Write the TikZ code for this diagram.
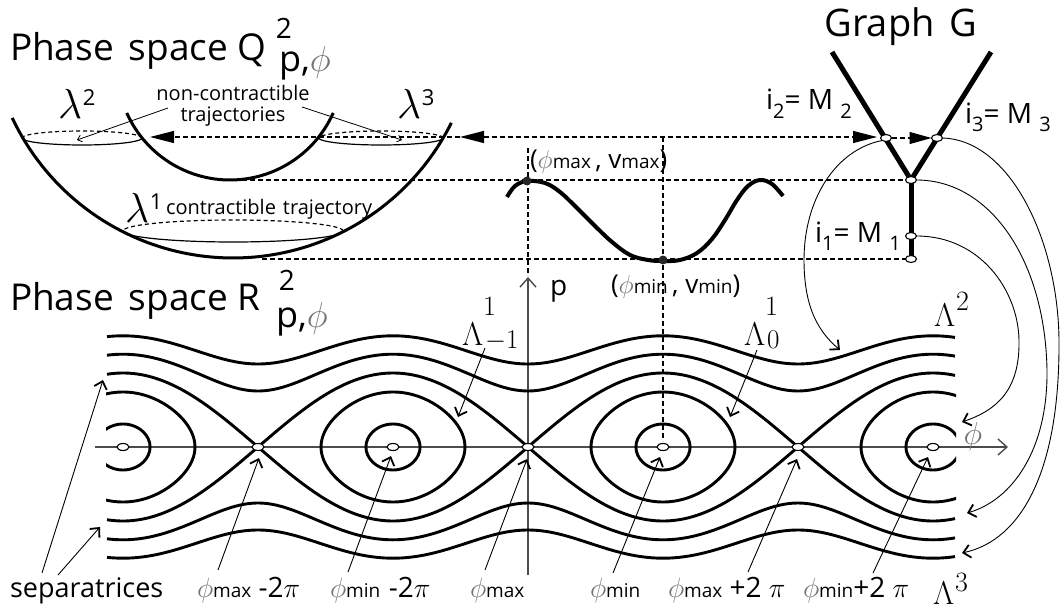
\RequirePackage{fix-cm}
\documentclass[tikz,border=0pt]{standalone}
\usepackage[no-math]{fontspec}
\setmainfont{Open Sans}
\usetikzlibrary{arrows.meta,shapes.geometric}
\definecolor{phigray}{gray}{0.45}
\definecolor{axisgray}{gray}{0.3}
\newcommand\gphi{\textcolor{phigray}{$\phi$}}
\newcommand\sm[1]{{\fontsize{19}{19}\selectfont #1}}
\newcommand\lowsub[1]{\raisebox{-0.3em}{\fontsize{20}{20}\selectfont #1}}
\newcommand\lamlab[1]{$\lambda$\kern1pt\raisebox{13pt}{\fontsize{22}{22}\selectfont #1}}
\newcommand\Lamsupsub[2]{$\Lambda$\makebox[0pt][l]{\raisebox{30pt}{\fontsize{28}{28}\selectfont$#1$}}\kern2pt\raisebox{-3pt}{\fontsize{27}{27}\selectfont$#2$}}
\newcommand\Lamsup[2]{$\Lambda$\kern1pt\raisebox{#1}{\fontsize{28}{28}\selectfont$#2$}}
\begin{document}
\begin{tikzpicture}[x=1pt,y=-1pt,
 every node/.style={inner sep=0pt, outer sep=0pt},
 pcurve/.style={line width=2.9pt, line join=round},
 barb/.style={-{Straight Barb[length=7pt,width=13pt,line width=1.8pt]}},
 thinarr/.style={line width=0.9pt, barb},
 smallarr/.style={line width=0.8pt, -{Straight Barb[length=4pt,width=7pt,line width=0.8pt]}},
 dline/.style={line width=1.1pt, dash pattern=on 5pt off 3pt},
 axisline/.style={axisgray, line width=1.2pt, -{Straight Barb[length=9pt,width=16pt,line width=1.4pt]}},
 fixpt/.style={ellipse, draw, fill=white, line width=1.1pt, minimum width=12pt, minimum height=7pt},
 gnode/.style={ellipse, draw, fill=white, line width=1.1pt, minimum width=11pt, minimum height=7pt},
 bigdot/.style={circle, fill=black!85, minimum size=9pt},
 titletxt/.style={font=\fontsize{37}{42}\selectfont},
 labtxt/.style={font=\fontsize{28}{32}\selectfont},
 lamtxt/.style={font=\fontsize{42}{46}\selectfont},
 Lamtxt/.style={font=\fontsize{33}{36}\selectfont},
 smalltxt/.style={font=\fontsize{20}{23}\selectfont}
]
\useasboundingbox (0,0) rectangle (1060,610);

% ---------------- Phase space Q (bowls) ----------------
\node[titletxt, anchor=base west] (tQ) at (10,60) {Phase\hspace{0.4em}space Q};
\node[labtxt, anchor=center] (tQs) at (284,28) {2};
\node[font=\fontsize{36}{40}\selectfont, anchor=base west] (tQi) at (279,72) {p,\gphi};

\draw[line width=3pt] plot[domain=26.5:154.8,samples=80] ({233+244*cos(\x)},{14+244*sin(\x)});
\draw[line width=3pt] plot[domain=24:156,samples=60] ({230+113*cos(\x)},{67+113*sin(\x)});
% lambda ellipses
\draw[line width=1.2pt, dash pattern=on 4pt off 3pt] plot[domain=0:180,samples=40] ({82+60*cos(\x)},{138-7*sin(\x)});
\draw[line width=1.2pt] plot[domain=0:180,samples=40] ({82+60*cos(\x)},{138+7*sin(\x)});
\draw[line width=1.2pt, dash pattern=on 4pt off 3pt] plot[domain=0:180,samples=40] ({381+62*cos(\x)},{138-7*sin(\x)});
\draw[line width=1.2pt] plot[domain=0:180,samples=40] ({381+62*cos(\x)},{138+7*sin(\x)});
\draw[line width=1.2pt, dash pattern=on 4pt off 3pt] plot[domain=0:180,samples=50] ({233+110*cos(\x)},{231-11*sin(\x)});
\draw[line width=1.2pt] plot[domain=0:180,samples=50] ({233+110*cos(\x)},{231+11*sin(\x)});

\node[lamtxt, anchor=base west] (l2) at (58,118) {\lamlab{2}};
\node[lamtxt, anchor=base west] (l3) at (397,118) {\lamlab{3}};
\node[lamtxt, anchor=base west] (l1) at (125,222) {\lamlab{1}};
\node[smalltxt, anchor=base west] (ctr) at (166,214) {contractible\hspace{0.35em}trajectory};
\node[smalltxt, align=center, anchor=center, font=\fontsize{20}{21}\selectfont] (nct) at (233,106) {non-contractible\\trajectories};
\coordinate (nctA) at (168,108); \coordinate (nctAt) at (77,140);
\coordinate (nctB) at (302,107); \coordinate (nctBt) at (402,140);
\draw[smallarr] (nctA) -- (nctAt);
\draw[smallarr] (nctB) -- (nctBt);

% ---------------- Graph G ----------------
\node[font=\fontsize{38}{42}\selectfont, anchor=center] (tG) at (901,27) {Graph\hspace{0.4em}G};
\coordinate (Gl) at (832,52);
\coordinate (Gr) at (991,52);
\coordinate (Jc) at (911,180);
\coordinate (Bc) at (911,259);
\draw[line width=5pt] (Gl) -- (Jc) -- (Gr);
\draw[line width=5pt] (Jc) -- (Bc);
\node[gnode] (i2) at (886,138) {};
\node[gnode] (i3) at (937,138) {};
\node[gnode] (J) at (Jc) {};
\node[gnode] (i1) at (911,236) {};
\node[gnode] (B) at (Bc) {};
\node[labtxt, anchor=base west] (ti2) at (766,110) {i\lowsub{2}= M \lowsub{2}};
\node[labtxt, anchor=base west] (ti3) at (965,123) {i\lowsub{3}= M \lowsub{3}};
\node[labtxt, anchor=base west] (ti1) at (815,242) {i\lowsub{1}= M \lowsub{1}};

% ---------------- dashed guide lines ----------------
\coordinate (h1L) at (150,137);
\coordinate (h1M) at (460,137);
\coordinate (h1R) at (877,137);
\draw[dline, {Triangle[length=24pt,width=12pt]}-{Triangle[length=24pt,width=12pt]}] (h1M) -- (h1R);
\draw[dline, -{Triangle[length=24pt,width=12pt]}] (h1M) -- (h1L);
\draw[dline, -{Triangle[length=22pt,width=12pt]}] (i2) -- (i3);
\coordinate (h2L) at (226,180);
\draw[dline] (h2L) -- (J);
\coordinate (h3L) at (262,259);
\draw[dline] (h3L) -- (B);
\coordinate (v1T) at (528,148); \coordinate (v1B) at (528,276);
\draw[dline] (v1T) -- (v1B);
\coordinate (v2T) at (663,137); \coordinate (v2B) at (663,441);
\draw[dline] (v2T) -- (v2B);

% ---------------- potential curve ----------------
\draw[line width=4pt] plot[smooth, tension=0.6] coordinates {(507,197) (515,186) (527,181) (545,183) (560,192) (577,208) (595,226) (612,242) (630,255) (648,260) (663,261) (680,260) (697,253) (712,239) (725,220) (737,200) (748,186) (760,180) (772,184) (783,196)};
\node[bigdot] (vmax) at (527,181) {};
\node[bigdot] (vmin) at (663,260) {};
\node[font=\fontsize{26}{30}\selectfont, anchor=base west] (tvmax) at (530,168) {(\gphi\sm{max}\,, v\sm{max})};
\node[font=\fontsize{26}{30}\selectfont, anchor=base west] (tvmin) at (611,293) {(\gphi\sm{min}\,, v\sm{min})};

% ---------------- Phase space R ----------------
\node[titletxt, anchor=base west] (tR) at (10,310) {Phase\hspace{0.4em}space R};
\node[labtxt, anchor=center] (tRs) at (287,280) {2};
\node[font=\fontsize{36}{40}\selectfont, anchor=base west] (tRi) at (276,327) {p,\gphi};

\coordinate (xL) at (95,447); \coordinate (xR) at (1008,447);
\coordinate (pB) at (528,575); \coordinate (pT) at (528,277);
\draw[axisline] (xL) -- (xR);
\draw[axisline] (pB) -- (pT);
\node[font=\fontsize{32}{34}\selectfont, anchor=center] (tphi) at (973,436) {\gphi};
\node[labtxt, anchor=base west] (tp) at (550,295) {p};

\begin{scope}
\clip (106,290) rectangle (956,600);
\foreach \c in {6889,3136} {
  \draw[pcurve] plot[domain=107:955,samples=200] (\x,{447-sqrt(2738*(1+cos((\x-123)*4/3))+\c)});
  \draw[pcurve] plot[domain=107:955,samples=200] (\x,{447+sqrt(2738*(1+cos((\x-123)*4/3))+\c)});
}
\draw[pcurve] plot[domain=107:955,samples=425] (\x,{447-74*abs(cos((\x-123)*2/3))});
\draw[pcurve] plot[domain=107:955,samples=425] (\x,{447+74*abs(cos((\x-123)*2/3))});
\foreach \xc in {123,393,663,933} {
  \draw[pcurve] plot[domain=0:355,samples=72,smooth cycle] ({\xc+1.5*asin(0.743*sin(\x))},{447-55*cos(\x)});
  \draw[pcurve] plot[domain=0:350,samples=36,smooth cycle] ({\xc+1.5*asin(0.31*sin(\x))},{447-23*cos(\x)});
}
\end{scope}

\node[fixpt] (c0) at (123,447) {};
\node[fixpt] (s0) at (258,447) {};
\node[fixpt] (c1) at (393,447) {};
\node[fixpt] (s1) at (528,447) {};
\node[fixpt] (c2) at (663,447) {};
\node[fixpt] (s2) at (798,447) {};
\node[fixpt] (c3) at (933,447) {};

% labels of the portrait
\node[Lamtxt, anchor=base west] (L1) at (462,345) {\Lamsupsub{1}{-1}};
\node[Lamtxt, anchor=base west] (L0) at (744,345) {\Lamsupsub{1}{0}};
\node[Lamtxt, anchor=base west] (L2) at (934,326) {\Lamsup{16pt}{2}};
\node[Lamtxt, anchor=base west] (L3) at (933,604) {\Lamsup{13pt}{3}};
\coordinate (L1a) at (485,348); \coordinate (L1t) at (458,417);
\coordinate (L0a) at (757,350); \coordinate (L0t) at (730,417);
\draw[thinarr] (L1a) -- (L1t);
\draw[thinarr] (L0a) -- (L0t);

\node[font=\fontsize{27}{30}\selectfont, anchor=base west] (tsep) at (10,597) {separatrices};
\node[labtxt, anchor=base west] (b1) at (197,597) {\gphi\sm{max} -2$\pi$};
\node[labtxt, anchor=base west] (b2) at (330,597) {\gphi\sm{min}\hspace{0.3em}-2$\pi$};
\node[labtxt, anchor=base west] (b3) at (470,597) {\gphi\sm{max}};
\node[labtxt, anchor=base west] (b4) at (590,597) {\gphi\sm{min}};
\node[labtxt, anchor=base west] (b5) at (668,597) {\gphi\sm{max} +2 $\pi$};
\node[labtxt, anchor=base west] (b6) at (803,597) {\gphi\sm{min}+2 $\pi$};

\coordinate (sa) at (42,573); \coordinate (sat) at (103,380);
\coordinate (sb) at (58,575); \coordinate (sbt) at (100,527);
\draw[thinarr] (sa) -- (sat);
\draw[thinarr] (sb) -- (sbt);
\coordinate (a1) at (218,570); \coordinate (a1t) at (259,458);
\coordinate (a2) at (348,572); \coordinate (a2t) at (391,456);
\coordinate (a3) at (485,570); \coordinate (a3t) at (527,459);
\coordinate (a4) at (613,573); \coordinate (a4t) at (660,457);
\coordinate (a5) at (748,572); \coordinate (a5t) at (797,459);
\coordinate (a6) at (873,573); \coordinate (a6t) at (928,457);
\foreach \s in {1,...,6} { \draw[thinarr] (a\s) -- (a\s t); }

% curved arrows from graph to the portrait
\coordinate (t2) at (840,350);
\coordinate (t1) at (962,422);
\coordinate (tJ) at (967,513);
\coordinate (t3) at (962,553);
\draw[thinarr] (i2.south west) .. controls (835,150) and (804,200) .. (804,260) .. controls (804,310) and (820,333) .. (t2);
\draw[thinarr] (i1.east) .. controls (980,236) and (1018,290) .. (1019,340) .. controls (1020,390) and (997,410) .. (t1);
\draw[thinarr] (J.east) .. controls (990,180) and (1045,260) .. (1047,370) .. controls (1048,450) and (1012,500) .. (tJ);
\draw[thinarr] (i3.east) .. controls (1010,140) and (1058,240) .. (1059,340) .. controls (1060,470) and (1022,540) .. (t3);
\end{tikzpicture}
\end{document}
